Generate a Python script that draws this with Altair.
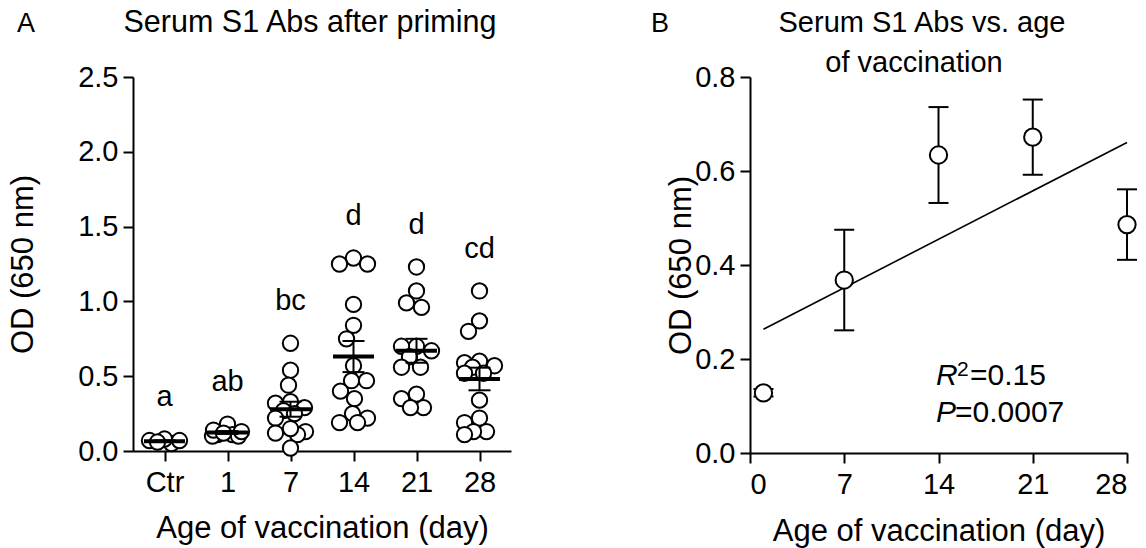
import altair as alt
import pandas as pd

FONT = "Liberation Sans"

# ---------------- Panel A data ----------------
categories = ["Ctr", "1", "7", "14", "21", "28"]
vals_ctr = [0.05, 0.07, 0.08, 0.07, 0.06]
vals_d1 = [0.18, 0.11, 0.11, 0.10, 0.10, 0.13, 0.14, 0.12]
vals_d7 = [0.72, 0.54, 0.44, 0.33, 0.32, 0.29, 0.27, 0.25, 0.22, 0.13, 0.11, 0.02, 0.15, 0.12]
vals_d14 = [1.29, 1.25, 1.25, 0.98, 0.84, 0.75, 0.57, 0.47, 0.47, 0.40, 0.35, 0.25, 0.22, 0.19, 0.19]
vals_d21 = [1.23, 1.07, 0.99, 0.96, 0.70, 0.70, 0.67, 0.63, 0.56, 0.56, 0.38, 0.35, 0.29, 0.29]
vals_d28 = [1.07, 0.87, 0.80, 0.60, 0.59, 0.57, 0.56, 0.52, 0.52, 0.34, 0.22, 0.19, 0.13, 0.13, 0.11]
letters = ["a", "ab", "bc", "d", "d", "cd"]

# ---------------- Panel B data ----------------
ages_b = [1, 7, 14, 21, 28]
means_b = [0.128, 0.368, 0.634, 0.672, 0.486]
sems_b = [0.008, 0.107, 0.102, 0.080, 0.075]

W_A, H_A = 378, 374
W_B, H_B = 377, 376
Y_MAX_A = 2.5
Y_MAX_B = 0.8

groups = [vals_ctr, vals_d1, vals_d7, vals_d14, vals_d21, vals_d28]
px_per_x = W_A / len(categories)
px_per_y = H_A / Y_MAX_A


def beeswarm(vals, diam, cap):
    """Horizontal offsets (pixels) within +-cap, avoiding overlap where possible."""
    placed = []
    out = [0.0] * len(vals)
    order = sorted(range(len(vals)), key=lambda i: -vals[i])
    cands = sorted(range(-cap, cap + 1), key=lambda c: (abs(c), c))
    for i in order:
        y = vals[i] * px_per_y
        best, best_d = 0.0, -1.0
        chosen = None
        for c in cands:
            md = min([((c - px) ** 2 + (y - py) ** 2) ** 0.5 for px, py in placed] or [1e9])
            if md >= diam:
                chosen = c
                break
            if md > best_d:
                best, best_d = c, md
        if chosen is None:
            chosen = best
        placed.append((chosen, y))
        out[i] = chosen
    return out


rows = []
stats = []
for gi, vals in enumerate(groups):
    offs = beeswarm(vals, 15, 15)
    for v, o in zip(vals, offs):
        rows.append({"grp": gi, "xpos": gi + o / px_per_x, "od": v})
    s = pd.Series(vals)
    m = s.mean()
    se = s.std(ddof=1) / len(s) ** 0.5
    stats.append({"grp": gi, "mean": m, "lo": m - se, "hi": m + se,
                  "top": s.max(), "letter": letters[gi]})
df_pts = pd.DataFrame(rows)
df_stats = pd.DataFrame(stats)

label_expr = "[" + ",".join("'%s'" % c for c in categories) + "][datum.value]"

axis_common = dict(
    domainColor="black", domainWidth=2, tickColor="black", tickWidth=2, tickSize=10,
    labelFont=FONT, labelFontSize=29, labelColor="black",
    titleFont=FONT, titleFontSize=31, titleColor="black", titleFontWeight="normal",
    grid=False,
)

xA = alt.X("xpos:Q",
           scale=alt.Scale(domain=[-0.5, len(categories) - 0.5], nice=False, zero=False),
           axis=alt.Axis(values=list(range(len(categories))), labelExpr=label_expr,
                         title="Age of vaccination (day)", labelPadding=7,
                         titleX=W_A / 2, titleY=86, titleBaseline="alphabetic",
                         titleAlign="center", **axis_common))
yA = alt.Y("od:Q", scale=alt.Scale(domain=[0, Y_MAX_A], nice=False),
           axis=alt.Axis(values=[0, 0.5, 1.0, 1.5, 2.0, 2.5], format=".1f",
                         title="OD (650 nm)", labelPadding=5,
                         titleX=-110, titleY=H_A / 2, titleAngle=-90,
                         titleBaseline="middle", titleAlign="center", **axis_common))

pts_A = alt.Chart(df_pts).mark_point(
    shape="circle", filled=True, fill="white", stroke="black", strokeWidth=2,
    size=235, opacity=1
).encode(x=xA, y=yA)

base_stats = alt.Chart(df_stats)
sem_rule = base_stats.mark_rule(color="black", strokeWidth=2).encode(
    x=alt.X("grp:Q"), y=alt.Y("lo:Q"), y2="hi:Q")
cap_lo = base_stats.mark_tick(orient="horizontal", color="black", size=22,
                              thickness=2, opacity=1).encode(x="grp:Q", y="lo:Q")
cap_hi = base_stats.mark_tick(orient="horizontal", color="black", size=22,
                              thickness=2, opacity=1).encode(x="grp:Q", y="hi:Q")
mean_tick = base_stats.mark_tick(orient="horizontal", color="black", size=41,
                                 thickness=4, opacity=1).encode(x="grp:Q", y="mean:Q")
letter_txt = base_stats.mark_text(font=FONT, fontSize=29, color="black",
                                  baseline="middle", dy=-42).encode(
    x="grp:Q", y="top:Q", text="letter:N")


def txt(s, x, y, size=30, style="normal", align="left"):
    return alt.Chart(pd.DataFrame({"t": [s]})).mark_text(
        font=FONT, fontSize=size, fontStyle=style, color="black", align=align,
        baseline="alphabetic"
    ).encode(x=alt.value(x), y=alt.value(y), text="t:N")


ann_A = txt("A", -116, -45, size=27)
title_A = txt("Serum S1 Abs after priming", 177, -45, size=30.5, align="center")

panel_A = alt.layer(pts_A, sem_rule, cap_lo, cap_hi, mean_tick, letter_txt,
                    ann_A, title_A).properties(width=W_A, height=H_A)

# ---------------- Panel B ----------------
df_b = pd.DataFrame({"age": ages_b, "mean": means_b, "sem": sems_b})
df_b["lo"] = df_b["mean"] - df_b["sem"]
df_b["hi"] = df_b["mean"] + df_b["sem"]

xB = alt.X("age:Q", scale=alt.Scale(domain=[0, 28], nice=False, zero=False),
           axis=alt.Axis(values=[0, 7, 14, 21, 28], title="Age of vaccination (day)",
                         labelPadding=7, titleX=W_B / 2, titleY=87,
                         titleBaseline="alphabetic", titleAlign="center", **axis_common))
yB = alt.Y("mean:Q", scale=alt.Scale(domain=[0, Y_MAX_B], nice=False),
           axis=alt.Axis(values=[0, 0.2, 0.4, 0.6, 0.8], format=".1f",
                         title="OD (650 nm)", labelPadding=5,
                         titleX=-69, titleY=H_B / 2, titleAngle=-90,
                         titleBaseline="middle", titleAlign="center", **axis_common))

base_b = alt.Chart(df_b)
reg_line = base_b.transform_regression("age", "mean").mark_line(
    color="black", strokeWidth=1.6).encode(x=xB, y=yB)
err_rule = base_b.mark_rule(color="black", strokeWidth=2).encode(
    x="age:Q", y="lo:Q", y2="hi:Q")
capb_lo = base_b.mark_tick(orient="horizontal", color="black", size=20,
                           thickness=2, opacity=1).encode(x="age:Q", y="lo:Q")
capb_hi = base_b.mark_tick(orient="horizontal", color="black", size=20,
                           thickness=2, opacity=1).encode(x="age:Q", y="hi:Q")
pts_B = base_b.mark_point(shape="circle", filled=True, fill="white", stroke="black",
                          strokeWidth=2, size=300, opacity=1).encode(x="age:Q", y="mean:Q")

ann_B = txt("B", -99, -45, size=27)
title_B1 = txt("Serum S1 Abs vs. age", 172, -45, size=29, align="center")
title_B2 = txt("of vaccination", 164, -5, size=29, align="center")
r_txt = txt("R", 186, 308, style="italic")
r_sup = txt("2", 207, 299, size=21)
r_val = txt("=0.15", 220, 308)
p_txt = txt("P", 186, 345, style="italic")
p_val = txt("=0.0007", 205, 345)

panel_B = alt.layer(reg_line, err_rule, capb_lo, capb_hi, pts_B, ann_B, title_B1,
                    title_B2, r_txt, r_sup, r_val, p_txt, p_val
                    ).properties(width=W_B, height=H_B)

chart = alt.hconcat(panel_A, panel_B, spacing=140).properties(
    padding={"left": 7, "top": 8, "right": 5, "bottom": 5},
    background="white",
).configure_view(stroke=None)

chart.save("out.html", embed_options={"renderer": "svg", "actions": False})
